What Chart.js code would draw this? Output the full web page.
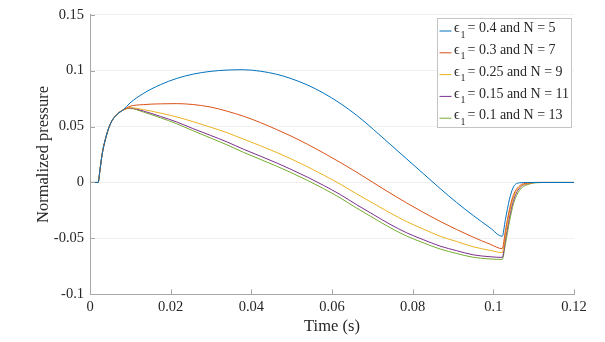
<!DOCTYPE html>
<html>
<head>
<meta charset="utf-8">
<script src="https://cdn.jsdelivr.net/npm/chart.js@4.4.1/dist/chart.umd.min.js"></script>
<style>
  body { margin: 0; background: #fff; }
  #chart { display: block; }
</style>
</head>
<body>
<canvas id="chart" width="605" height="342"></canvas>
<script>
// time samples (s)
const timeS = [0, 0.002, 0.0025, 0.003, 0.0037, 0.005, 0.0066, 0.0083, 0.0099, 0.0132,
    0.0175, 0.0215, 0.0255, 0.0298, 0.034, 0.038, 0.0422, 0.0463, 0.0496, 0.054,
    0.0579, 0.062, 0.0661, 0.0703, 0.0744, 0.0785, 0.0826, 0.0868, 0.0909, 0.095,
    0.0992, 0.1022, 0.103, 0.104, 0.105, 0.1065, 0.1085, 0.111, 0.114, 0.12];

// normalized pressure, one array per case
const p04 = [0, 0, 0.012, 0.025, 0.037, 0.052, 0.0605, 0.065, 0.071, 0.0795,
    0.0875, 0.093, 0.0968, 0.0993, 0.1005, 0.1008, 0.0995, 0.0967, 0.0932, 0.087,
    0.0799, 0.0708, 0.0601, 0.0473, 0.0342, 0.0211, 0.008, -0.0054, -0.0179, -0.0295,
    -0.0406, -0.0481, -0.033, -0.015, -0.004, -0.0003, 0, 0, 0, 0];
const p03 = [0, 0, 0.012, 0.025, 0.037, 0.052, 0.0605, 0.065, 0.0681, 0.0696,
    0.0703, 0.0705, 0.0697, 0.0675, 0.0637, 0.0593, 0.0536, 0.0473, 0.0419, 0.034,
    0.0264, 0.018, 0.0092, -0.0003, -0.0095, -0.0183, -0.0267, -0.0348, -0.0421, -0.0489,
    -0.0552, -0.0592, -0.043, -0.024, -0.011, -0.003, -0.0005, 0, 0, 0];
const p025 = [0, 0, 0.012, 0.025, 0.037, 0.052, 0.0605, 0.065, 0.0668, 0.0652,
    0.062, 0.0586, 0.0544, 0.0495, 0.0445, 0.0388, 0.0329, 0.0268, 0.0215, 0.0139,
    0.0066, -0.0014, -0.0102, -0.0188, -0.0272, -0.035, -0.0416, -0.0481, -0.0528, -0.0575,
    -0.0607, -0.0627, -0.047, -0.027, -0.013, -0.004, -0.001, 0, 0, 0];
const p015 = [0, 0, 0.012, 0.025, 0.037, 0.052, 0.0605, 0.065, 0.0665, 0.0639,
    0.059, 0.0541, 0.0482, 0.0422, 0.0362, 0.0298, 0.0236, 0.0174, 0.0121, 0.0046,
    -0.0026, -0.0107, -0.0199, -0.0288, -0.0374, -0.045, -0.0511, -0.0569, -0.061, -0.0647,
    -0.0664, -0.067, -0.051, -0.031, -0.016, -0.005, -0.0012, 0, 0, 0];
const p01 = [0, 0, 0.012, 0.025, 0.037, 0.052, 0.0605, 0.065, 0.0662, 0.063,
    0.0578, 0.0525, 0.0463, 0.0399, 0.0336, 0.027, 0.0207, 0.0145, 0.0092, 0.0017,
    -0.0055, -0.0137, -0.0229, -0.0318, -0.0404, -0.0479, -0.0539, -0.0595, -0.0635, -0.0669,
    -0.0684, -0.0688, -0.055, -0.035, -0.019, -0.007, -0.002, -0.0002, 0, 0];

const epsValues = ['0.4', '0.3', '0.25', '0.15', '0.1'];
const nValues = [5, 7, 9, 11, 13];
const seriesColors = ['#0072BD', '#D95319', '#EDB120', '#7E2F8E', '#77AC30'];

const xTickValues = [0, 0.02, 0.04, 0.06, 0.08, 0.1, 0.12];
const xTickLabels = ['0', '0.02', '0.04', '0.06', '0.08', '0.1', '0.12'];
const yTickValues = [-0.1, -0.05, 0, 0.05, 0.1, 0.15];
const yTickLabels = ['-0.1', '-0.05', '0', '0.05', '0.1', '0.15'];

const serif = "'Liberation Serif', 'Times New Roman', 'DejaVu Serif', serif";
const textColor = '#262626';
const axisColor = '#a8a8a8';

// small ticks pointing into the plot, like the original figure
const innerTicks = {
    id: 'innerTicks',
    afterDraw(chart) {
        const {ctx, chartArea, scales} = chart;
        ctx.save();
        ctx.strokeStyle = axisColor;
        ctx.lineWidth = 1;
        ctx.beginPath();
        scales.x.ticks.forEach(t => {
            const x = Math.round(scales.x.getPixelForValue(t.value)) + 0.5;
            ctx.moveTo(x, chartArea.bottom);
            ctx.lineTo(x, chartArea.bottom - 5);
        });
        scales.y.ticks.forEach(t => {
            const y = Math.round(scales.y.getPixelForValue(t.value)) + 0.5;
            ctx.moveTo(chartArea.left, y);
            ctx.lineTo(chartArea.left + 5, y);
        });
        ctx.stroke();
        ctx.restore();
    }
};

// boxed legend with subscripted epsilon
const boxLegend = {
    id: 'boxLegend',
    afterDraw(chart) {
        const {ctx, chartArea} = chart;
        const w = 134, h = 109;
        const left = Math.round(chartArea.right - 3 - w) + 0.5;
        const top = Math.round(chartArea.top + 3) + 0.5;
        ctx.save();
        ctx.fillStyle = '#fff';
        ctx.fillRect(left, top, w, h);
        ctx.strokeStyle = '#c4c4c4';
        ctx.lineWidth = 1;
        ctx.strokeRect(left, top, w, h);
        ctx.textBaseline = 'middle';
        ctx.textAlign = 'left';
        chart.data.datasets.forEach((ds, i) => {
            const cy = top + 10 + i * 21.8;
            ctx.strokeStyle = ds.borderColor;
            ctx.beginPath();
            ctx.moveTo(left + 2, cy + 2.5);
            ctx.lineTo(left + 14, cy + 2.5);
            ctx.stroke();
            ctx.fillStyle = textColor;
            ctx.font = '14px ' + serif;
            ctx.fillText('\u03F5', left + 16.5, cy);
            ctx.font = '10px ' + serif;
            ctx.fillText('1', left + 23, cy + 6.5);
            ctx.font = '14px ' + serif;
            ctx.fillText('= ' + epsValues[i] + ' and N = ' + nValues[i], left + 30, cy);
        });
        ctx.restore();
    }
};

function buildDatasets() {
    const all = [p04, p03, p025, p015, p01];
    return all.map((vals, i) => ({
        label: 'eps1 = ' + epsValues[i] + ' and N = ' + nValues[i],
        data: timeS.map((t, k) => ({x: t, y: vals[k]})),
        borderColor: seriesColors[i],
        borderWidth: 1,
        pointRadius: 0,
        cubicInterpolationMode: 'monotone',
        fill: false
    }));
}

function createChart() {
    const ctx = document.getElementById('chart').getContext('2d');
    new Chart(ctx, {
        type: 'line',
        data: { datasets: buildDatasets() },
        options: {
            responsive: false,
            animation: false,
            layout: { padding: { left: 0, right: 31, top: 14.7, bottom: 0 } },
            plugins: { legend: { display: false }, tooltip: { enabled: false } },
            scales: {
                x: {
                    type: 'linear',
                    min: 0,
                    max: 0.12,
                    afterBuildTicks: s => { s.ticks = xTickValues.map(v => ({value: v})); },
                    afterFit: s => { s.height = 47.7; },
                    grid: { drawOnChartArea: false, drawTicks: false },
                    border: { color: axisColor, width: 1 },
                    ticks: {
                        padding: 4,
                        color: textColor,
                        font: { family: serif, size: 14.5 },
                        maxRotation: 0,
                        callback: v => xTickLabels[xTickValues.findIndex(a => Math.abs(a - v) < 1e-9)]
                    },
                    title: {
                        display: true,
                        text: 'Time (s)',
                        color: textColor,
                        font: { family: serif, size: 16.5 },
                        padding: { top: 0, bottom: 5 }
                    }
                },
                y: {
                    type: 'linear',
                    min: -0.1,
                    max: 0.15,
                    afterBuildTicks: s => { s.ticks = yTickValues.map(v => ({value: v})); },
                    afterFit: s => { s.width = 90; },
                    grid: { color: '#f0f0f0', drawTicks: false },
                    border: { color: axisColor, width: 1 },
                    ticks: {
                        padding: 6,
                        color: textColor,
                        font: { family: serif, size: 14.5 },
                        callback: v => yTickLabels[yTickValues.findIndex(a => Math.abs(a - v) < 1e-9)]
                    },
                    title: {
                        display: true,
                        text: 'Normalized pressure',
                        color: textColor,
                        font: { family: serif, size: 16.5 },
                        padding: { top: 34, bottom: 0 }
                    }
                }
            }
        },
        plugins: [innerTicks, boxLegend]
    });
}

document.addEventListener('DOMContentLoaded', createChart);
</script>
</body>
</html>
